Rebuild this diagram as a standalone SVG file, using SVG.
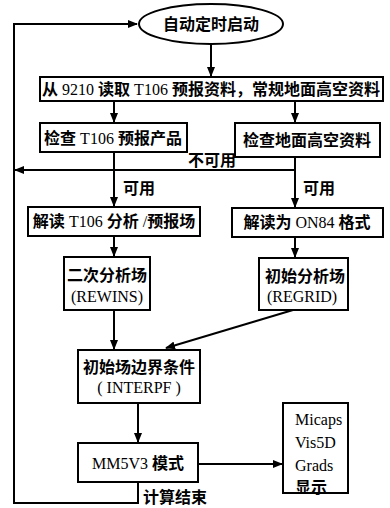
<svg xmlns="http://www.w3.org/2000/svg" width="390" height="508" viewBox="0 0 390 508">
<style>
.b{fill:#fff;stroke:#000;stroke-width:2}
.c{fill:none;stroke:#000;stroke-width:2}
text{font-family:"Liberation Serif","Noto Sans CJK SC",serif;font-size:16px;fill:#000;dominant-baseline:central;font-weight:bold}
.m{text-anchor:middle}
.l{font-weight:normal}
</style>
<defs>
<marker id="ah" markerWidth="10" markerHeight="8" refX="9" refY="4" orient="auto" markerUnits="userSpaceOnUse">
<path d="M0,0 L10,4 L0,8 Z" fill="#000"/>
</marker>
</defs>
<rect width="390" height="508" fill="#fff"/>
<g id="connectors">
<path class="c" d="M211,44 V76" marker-end="url(#ah)"/>
<path class="c" d="M114,102 V122" marker-end="url(#ah)"/>
<path class="c" d="M295,102 V122" marker-end="url(#ah)"/>
<path class="c" d="M295,157 V170 H15" marker-end="url(#ah)"/>
<path class="c" d="M114,152 V206" marker-end="url(#ah)"/>
<path class="c" d="M295,170 V207" marker-end="url(#ah)"/>
<path class="c" d="M114,236 V256" marker-end="url(#ah)"/>
<path class="c" d="M295,237 V257" marker-end="url(#ah)"/>
<path class="c" d="M114,310 V349" marker-end="url(#ah)"/>
<path class="c" d="M293,310 L166,348" marker-end="url(#ah)"/>
<path class="c" d="M138,403 V442" marker-end="url(#ah)"/>
<path class="c" d="M198,464 H282" marker-end="url(#ah)"/>
<path class="c" d="M138,482 V503 H14 V24 H137" marker-end="url(#ah)"/>
<text x="188" y="160">不可用</text>
<text x="123" y="188">可用</text>
<text x="303" y="188">可用</text>
<text x="143" y="497">计算结束</text>
</g>
<g id="start">
<ellipse class="b" cx="211" cy="24" rx="72" ry="20"/>
<text class="m" x="211" y="24">自动定时启动</text>
</g>
<g id="read">
<rect class="b" x="40" y="77" width="343" height="24"/>
<text class="m" x="211" y="89">从<tspan class="l"> 9210 </tspan>读取<tspan class="l"> T106 </tspan>预报资料，常规地面高空资料</text>
</g>
<g id="checkT106">
<rect class="b" x="40" y="123" width="147" height="29"/>
<text class="m" x="113" y="138">检查<tspan class="l"> T106 </tspan>预报产品</text>
</g>
<g id="checkObs">
<rect class="b" x="235" y="123" width="145" height="34"/>
<text class="m" x="307" y="140">检查地面高空资料</text>
</g>
<g id="decodeT106">
<rect class="b" x="28" y="207" width="172" height="29"/>
<text class="m" x="114" y="221">解读<tspan class="l"> T106 </tspan>分析<tspan class="l"> /</tspan>预报场</text>
</g>
<g id="decodeON84">
<rect class="b" x="232" y="208" width="151" height="29"/>
<text class="m" x="307" y="222">解读为<tspan class="l"> ON84 </tspan>格式</text>
</g>
<g id="rewins">
<rect class="b" x="64" y="257" width="86" height="53"/>
<text class="m" x="107" y="275">二次分析场</text>
<text class="m l" x="107" y="296">(REWINS)</text>
</g>
<g id="regrid">
<rect class="b" x="259" y="258" width="89" height="52"/>
<text class="m" x="305" y="276">初始分析场</text>
<text class="m l" x="302" y="296">(REGRID)</text>
</g>
<g id="interpf">
<rect class="b" x="78" y="350" width="122" height="53"/>
<text class="m" x="139" y="367">初始场边界条件</text>
<text class="m l" x="139" y="387">( INTERPF )</text>
</g>
<g id="mm5">
<rect class="b" x="78" y="443" width="120" height="39"/>
<text class="m" x="138" y="463"><tspan class="l">MM5V3 </tspan>模式</text>
</g>
<g id="display">
<rect class="b" x="283" y="403" width="65" height="90"/>
<text class="l" x="295" y="419">Micaps</text>
<text class="l" x="295" y="442">Vis5D</text>
<text class="l" x="295" y="465">Grads</text>
<text x="295" y="487">显示</text>
</g>
</svg>
